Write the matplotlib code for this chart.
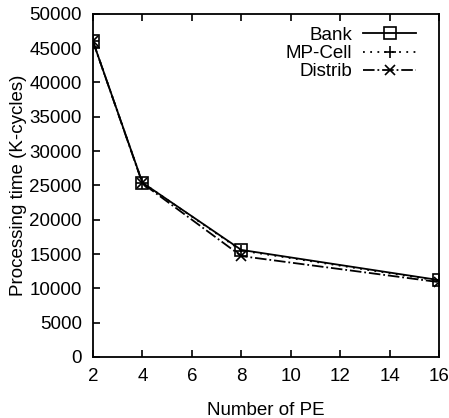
import matplotlib
matplotlib.use('Agg')
import matplotlib.pyplot as plt

plt.rcParams['font.family'] = ['Liberation Sans', 'DejaVu Sans']

pe = [2, 4, 8, 16]
bank = [46000, 25400, 15600, 11200]
mp_cell = [46000, 25400, 15500, 11100]
distrib = [46000, 25300, 14700, 10900]

fig = plt.figure(figsize=(4.49, 4.18), dpi=100)
ax = fig.add_axes([0.207, 0.146, 0.771, 0.821])

ax.plot(pe, bank, 'k-', marker='s', mfc='none', ms=8, mew=1.2, lw=1.3, label='Bank')
ax.plot(pe, mp_cell, color='k', ls=(0, (1, 3)), marker='+', ms=9, mew=1.2, lw=1.3,
        label='MP-Cell')
ax.plot(pe, distrib, 'k-.', marker='x', ms=7.5, mew=1.2, lw=1.3, label='Distrib')

ax.set_xlim(2, 16)
ax.set_ylim(0, 50000)
ax.set_xticks(range(2, 17, 2))
ax.set_yticks(range(0, 50001, 5000))
ax.tick_params(direction='in', length=5, labelsize=13.5, width=1.2, top=True, right=False)
ax.tick_params(axis='x', pad=8)
ax.tick_params(axis='y', pad=8)
for s in ax.spines.values():
    s.set_linewidth(1.3)

ax.set_xlabel('Number of PE', fontsize=13.5, labelpad=12)
ax.set_ylabel('Processing time (K-cycles)', fontsize=13.5, labelpad=2)

ax.legend(loc='upper right', bbox_to_anchor=(0.971, 1.0), frameon=False,
          markerfirst=False, fontsize=13.5, handlelength=2.8, borderaxespad=0.3,
          labelspacing=0.05, handletextpad=0.6)

fig.savefig('out.png', dpi=100)
